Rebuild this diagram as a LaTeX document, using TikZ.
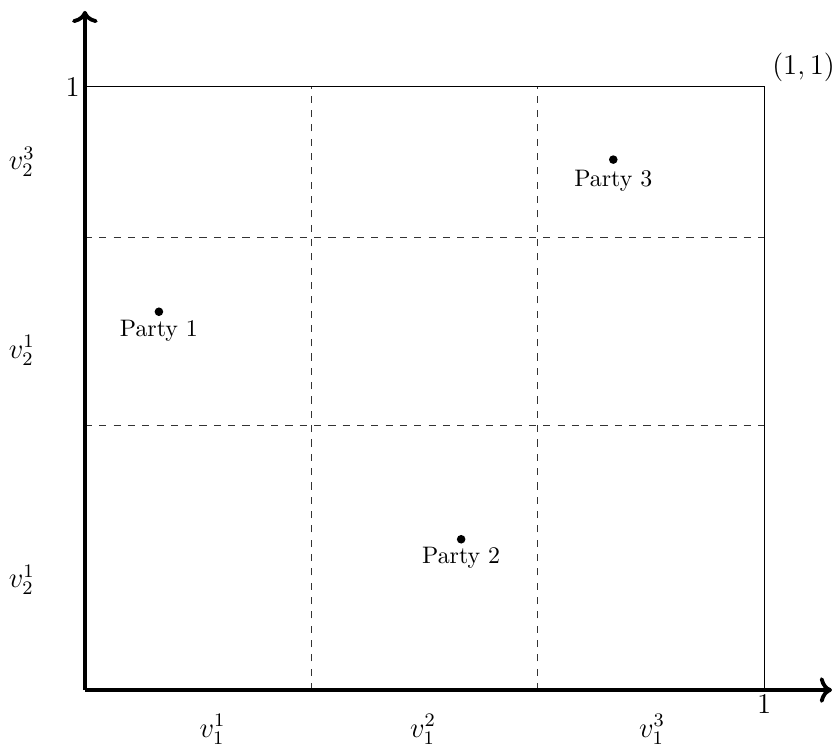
\documentclass[tikz,border=0pt]{standalone}
\usepackage{amsmath, amssymb}
\usepackage{tikz}
\usetikzlibrary{arrows.meta, positioning}

\begin{document}
\begin{tikzpicture}[
    party/.style={circle, fill=black, inner sep=0pt, minimum size=3.6pt},
    cutline/.style={dashed, black!80},
    axislabel/.style={font=\large}
  ]
    \useasboundingbox (-1.25, -0.825) rectangle (11.03, 10.16);

    % Corners of the unit square
    \coordinate (o) at (0, 0);
    \coordinate (xr) at (10, 0);
    \coordinate (yt) at (0, 8.88);
    \coordinate (tr) at (10, 8.88);

    % Unit square
    \draw (yt) -- (tr) -- (xr);

    % Dashed cuts
    \draw[cutline] (3.33, 0) -- (3.33, 8.88);
    \draw[cutline] (6.67, 0) -- (6.67, 8.88);
    \draw[cutline] (0, 3.90) -- (10, 3.90);
    \draw[cutline] (0, 6.67) -- (10, 6.67);

    % Axes
    \coordinate (xend) at (11, 0);
    \coordinate (yend) at (0, 10);
    \draw[->, ultra thick] (o) -- (xend);
    \draw[->, ultra thick] (o) -- (yend);

    % Tick labels
    \node[axislabel, anchor=east, inner sep=2pt] (ty) at (yt) {$1$};
    \node[axislabel, anchor=north, inner sep=2pt] (tx) at (xr) {$1$};
    \node[axislabel, anchor=south west, inner sep=1pt] (tc) at (10.08, 8.92) {$(1,1)$};

    % Interval labels
    \node[axislabel] (a1) at (1.88, -0.58) {$v_1^1$};
    \node[axislabel] (a2) at (4.98, -0.58) {$v_1^2$};
    \node[axislabel] (a3) at (8.35, -0.58) {$v_1^3$};
    \node[axislabel] (b3) at (-0.93, 7.78) {$v_2^3$};
    \node[axislabel] (b2) at (-0.93, 5.00) {$v_2^1$};
    \node[axislabel] (b1) at (-0.93, 1.62) {$v_2^1$};

    % Parties
    \node[party] (p1) at (1.09, 5.57) {};
    \node[party] (p2) at (5.54, 2.22) {};
    \node[party] (p3) at (7.78, 7.81) {};
    \node[below] (l1) at (p1) {Party 1};
    \node[below] (l2) at (p2) {Party 2};
    \node[below=1pt] (l3) at (p3) {Party 3};
\end{tikzpicture}
\end{document}
